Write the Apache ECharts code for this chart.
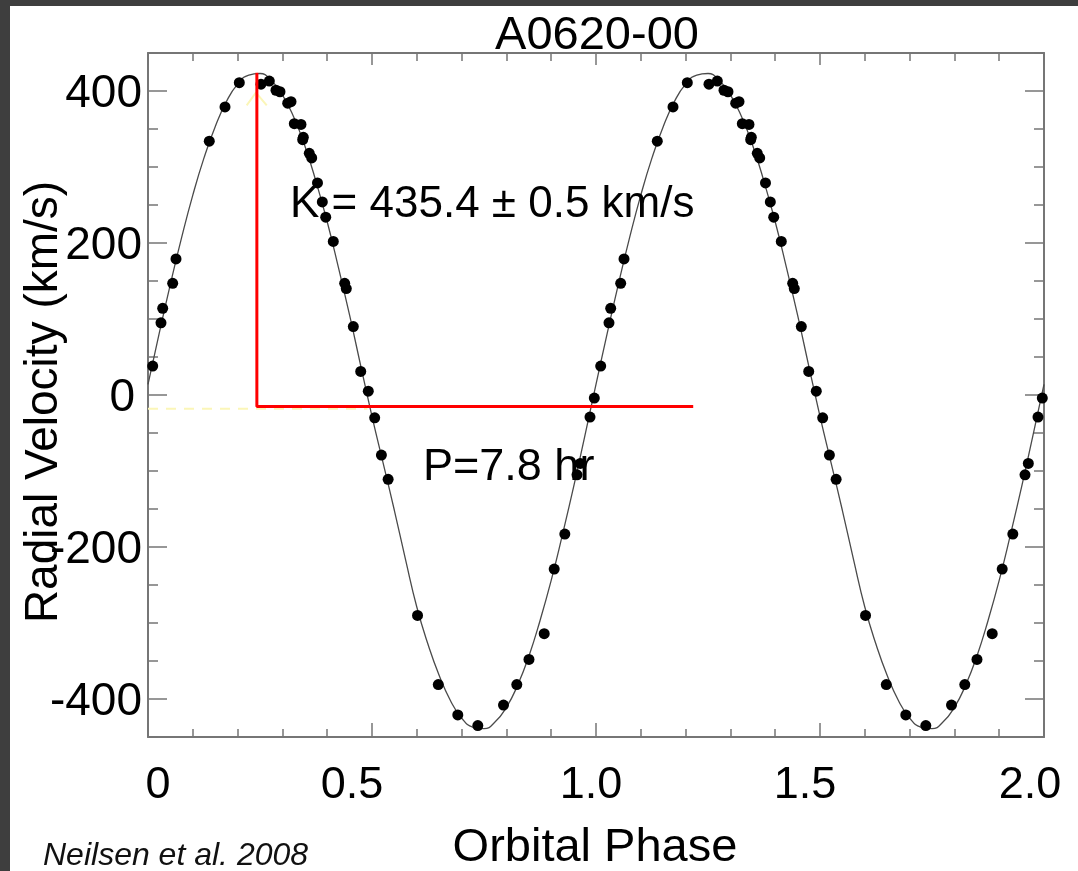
<!DOCTYPE html>
<html>
<head>
<meta charset="utf-8">
<script src="https://cdn.jsdelivr.net/npm/echarts@6/dist/echarts.min.js"></script>
<style>
  html, body { margin: 0; padding: 0; background: #3e3e3e; }
  #paper { position: absolute; left: 10px; top: 6px; width: 1068px; height: 865px; background: #ffffff; }
  #chart { position: absolute; left: 0; top: 0; width: 1078px; height: 871px; }
</style>
</head>
<body>
<div id="paper"></div>
<div id="chart"></div>
<script>
// ---------------- data ----------------
const title = 'A0620-00';
const xName = 'Orbital Phase';
const yName = 'Radial Velocity (km/s)';
const credit = 'Neilsen et al. 2008';
const kText = 'K = 435.4 \u00b1 0.5 km/s';
const pText = 'P=7.8 hr';

// measured radial velocities, one orbital cycle (drawn twice: phase and phase+1)
const obsPhase = [0.0105,0.029,0.0328,0.0551,0.0625,0.1368,0.1719,0.2038,0.2522,0.2708,
  0.2857,0.2946,0.3118,0.3192,0.3266,0.3415,0.3453,0.3467,0.36,0.3654,
  0.3783,0.3891,0.3967,0.4136,0.439,0.4426,0.4583,0.4748,0.4917,0.506,
  0.521,0.536,0.6016,0.648,0.6915,0.7362,0.7935,0.8232,0.8504,0.8844,
  0.9067,0.9304,0.9576,0.965,0.9866,0.9962];
const obsVel = [38,95,114,147,179,334,379,411,409,413,
  401,399,384,386,357,356,336,339,318,312,
  279,254,234,202,147,140,90,31,5,-30,
  -79,-111,-290,-381,-421,-435,-408,-381,-348,-314,
  -229,-183,-105,-90,-29,-4];

// fitted model curve, read at steps of 0.025 in phase over one cycle
const fitPhase = [0,0.025,0.05,0.075,0.1,0.125,0.15,0.175,0.2,0.225,
  0.25,0.275,0.3,0.325,0.35,0.375,0.4,0.425,0.45,0.475,
  0.5,0.525,0.55,0.575,0.6,0.625,0.65,0.675,0.7,0.725,
  0.75,0.775,0.8,0.825,0.85,0.875,0.9,0.925,0.95,0.975,1.0];
const fitVel = [14,81,146,207,263,312,353,386,409,421,
  423,414,395,366,328,281,228,168,105,38,
  -28,-90,-152,-217,-279,-328,-369,-402,-425,-437,
  -439,-430,-411,-382,-344,-297,-244,-184,-121,-54,14];

// annotation lines (K amplitude and period)
const kLinePhase = [0.243, 0.243, 1.217];
const kLineVel = [424, -15, -15];
const gammaPhase = [0, 0.49];
const gammaVel = [-18, -18];
const caretPhase = [0.2203, 0.241, 0.265];
const caretVel = [381, 398, 381];

// axes
const xMin = 0, xMax = 2;
const yMin = -450, yMax = 450;
const xMajor = [0, 0.5, 1, 1.5, 2];
const xTickLabels = ['0', '0.5', '1.0', '1.5', '2.0'];
const xMinor = [0.1,0.2,0.3,0.4,0.6,0.7,0.8,0.9,1.1,1.2,1.3,1.4,1.6,1.7,1.8,1.9];
const yMajor = [-400, -200, 0, 200, 400];
const yTickLabels = ['-400', '-200', '0', '200', '400'];
const yMinor = [-450,-350,-300,-250,-150,-100,-50,50,100,150,250,300,350,450];

// ---------------- build ----------------
const cycles = [0, 1];
const obsData = [];
cycles.forEach(c => obsPhase.forEach((p, i) => obsData.push([p + c, obsVel[i]])));
const fitData = [];
cycles.forEach(c => fitPhase.forEach((p, i) => { if (!(c === 1 && i === 0)) fitData.push([p + c, fitVel[i]]); }));
const kData = kLinePhase.map((p, i) => [p, kLineVel[i]]);
const gData = gammaPhase.map((p, i) => [p, gammaVel[i]]);
const cData = caretPhase.map((p, i) => [p, caretVel[i]]);

const FONT = '"Liberation Sans", Arial, Helvetica, sans-serif';
const AX = '#767676';

const xLabelRich = {
  x0: { padding: [0, 0, 0, 20] },
  x1: { padding: [0, 40, 0, 0] },
  x2: { padding: [0, 10, 0, 0] },
  x3: { padding: [0, 30, 0, 0] },
  x4: { padding: [0, 28, 0, 0] }
};
const yLabelRich = {
  y0: { padding: [6, 0, 0, 0] }, y1: { padding: [6, 0, 0, 0] }, y2: { padding: [6, 7, 0, 0] },
  y3: { padding: [6, 0, 0, 0] }, y4: { padding: [6, 0, 0, 0] }
};

function xAx(position, opts) {
  return Object.assign({
    type: 'value', min: xMin, max: xMax, position: position,
    axisLine: { show: false, onZero: false },
    axisTick: { show: false },
    axisLabel: { show: false },
    splitLine: { show: false }
  }, opts);
}
function yAx(position, opts) {
  return Object.assign({
    type: 'value', min: yMin, max: yMax, position: position,
    axisLine: { show: false, onZero: false },
    axisTick: { show: false },
    axisLabel: { show: false },
    splitLine: { show: false }
  }, opts);
}

const option = {
  animation: false,
  grid: { left: 148, top: 53, width: 896, height: 684, containLabel: false },
  xAxis: [
    xAx('bottom', {
      axisLine: { show: true, onZero: false, lineStyle: { color: AX, width: 2 } },
      axisTick: { show: true, inside: true, length: 14, customValues: xMajor, lineStyle: { color: AX, width: 1.5 } },
      axisLabel: {
        show: true, customValues: xMajor, margin: 26,
        fontSize: 45, fontFamily: FONT, color: '#000',
        formatter: function (v) {
          const i = xMajor.findIndex(m => Math.abs(m - v) < 1e-6);
          return i < 0 ? '' : '{x' + i + '|' + xTickLabels[i] + '}';
        },
        rich: Object.fromEntries(Object.entries(xLabelRich).map(([k, s]) => [k, Object.assign({ fontSize: 45, fontFamily: FONT, color: '#000' }, s)]))
      }
    }),
    xAx('bottom', {
      axisTick: { show: true, inside: true, length: 8, customValues: xMinor, lineStyle: { color: AX, width: 1.5 } }
    }),
    xAx('top', {
      axisLine: { show: true, onZero: false, lineStyle: { color: AX, width: 2 } },
      axisTick: { show: true, inside: true, length: 12, customValues: xMajor, lineStyle: { color: AX, width: 1.5 } }
    }),
    xAx('top', {
      axisTick: { show: true, inside: true, length: 8, customValues: xMinor, lineStyle: { color: AX, width: 1.5 } }
    })
  ],
  yAxis: [
    yAx('left', {
      axisLine: { show: true, onZero: false, lineStyle: { color: AX, width: 2 } },
      axisTick: { show: true, inside: true, length: 19, customValues: yMajor, lineStyle: { color: AX, width: 1.5 } },
      axisLabel: {
        show: true, customValues: yMajor, margin: 6,
        fontSize: 46, fontFamily: FONT, color: '#000',
        formatter: function (v) {
          const i = yMajor.findIndex(m => Math.abs(m - v) < 1e-6);
          return i < 0 ? '' : '{y' + i + '|' + yTickLabels[i] + '}';
        },
        rich: Object.fromEntries(Object.entries(yLabelRich).map(([k, s]) => [k, Object.assign({ fontSize: 46, fontFamily: FONT, color: '#000' }, s)]))
      }
    }),
    yAx('left', {
      axisTick: { show: true, inside: true, length: 10, customValues: yMinor, lineStyle: { color: AX, width: 1.5 } }
    }),
    yAx('right', {
      axisLine: { show: true, onZero: false, lineStyle: { color: AX, width: 2 } },
      axisTick: { show: true, inside: true, length: 19, customValues: yMajor, lineStyle: { color: AX, width: 1.5 } }
    }),
    yAx('right', {
      axisTick: { show: true, inside: true, length: 10, customValues: yMinor, lineStyle: { color: AX, width: 1.5 } }
    })
  ],
  series: [
    {
      type: 'line', name: 'gamma', data: gData, showSymbol: false, silent: true,
      lineStyle: { color: '#fbf6b8', width: 2, type: [10, 8] }, z: 1
    },
    {
      type: 'line', name: 'caret', data: cData, showSymbol: false, silent: true,
      lineStyle: { color: '#fbf6b8', width: 2 }, z: 1
    },
    {
      type: 'line', name: 'fit', data: fitData, smooth: 0.5, showSymbol: false, silent: true,
      lineStyle: { color: '#4a4a4a', width: 1.3 }, z: 2
    },
    {
      type: 'scatter', name: 'obs', data: obsData, symbol: 'circle', symbolSize: 11,
      itemStyle: { color: '#000', opacity: 1 }, z: 3
    },
    {
      type: 'line', name: 'K', data: kData, showSymbol: false, silent: true,
      lineStyle: { color: '#ff0000', width: 3 }, z: 4
    }
  ],
  graphic: [
    { type: 'text', x: 597, y: 36, z: 10, style: { text: title, font: '47px ' + FONT, fill: '#000', align: 'center', verticalAlign: 'middle' } },
    { type: 'text', x: 290, y: 205, z: 10, style: { text: kText, font: '44px ' + FONT, fill: '#000', align: 'left', verticalAlign: 'middle' } },
    { type: 'text', x: 423, y: 468, z: 10, style: { text: pText, font: '45px ' + FONT, fill: '#000', align: 'left', verticalAlign: 'middle' } },
    { type: 'text', x: 595, y: 848, z: 10, style: { text: xName, font: '47px ' + FONT, fill: '#000', align: 'center', verticalAlign: 'middle' } },
    { type: 'text', x: 44, y: 402, rotation: Math.PI / 2, z: 10, style: { text: yName, font: '46px ' + FONT, fill: '#000', align: 'center', verticalAlign: 'middle' } },
    { type: 'text', x: 43, y: 856, z: 10, style: { text: credit, font: 'italic 32px ' + FONT, fill: '#111', align: 'left', verticalAlign: 'middle' } }
  ]
};

const chart = echarts.init(document.getElementById('chart'), null, { renderer: 'canvas' });
chart.setOption(option);
</script>
</body>
</html>
